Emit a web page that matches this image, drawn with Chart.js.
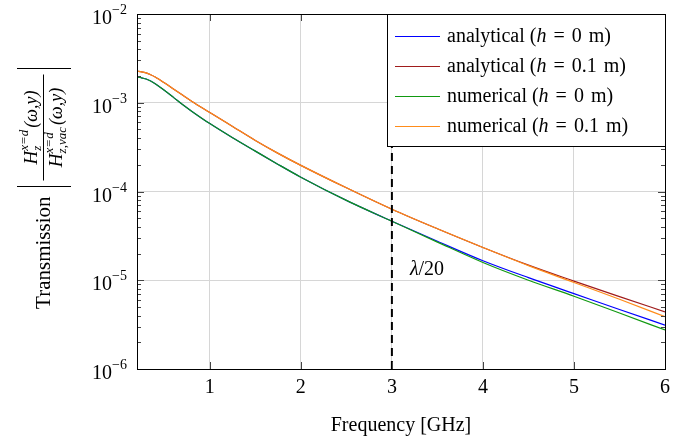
<!DOCTYPE html>
<html>
<head>
<meta charset="utf-8">
<script src="https://cdn.jsdelivr.net/npm/chart.js@4"></script>
<style>
  html, body { margin: 0; padding: 0; background: #fff; }
  #wrap { width: 699px; height: 441px; }
</style>
</head>
<body>
<div id="wrap"><canvas id="transChart" width="699" height="441"></canvas></div>
<script>
// frequency samples [GHz]
const freq = [0.2, 0.25, 0.3, 0.35, 0.4, 0.5, 0.6, 0.7, 0.8, 1.0, 1.25, 1.5, 1.75, 2.0, 2.5, 3.0, 3.5, 4.0, 4.5, 5.0, 5.5, 6.0];

const analyticalH0 = [1.95e-3, 1.91e-3, 1.85e-3, 1.76e-3, 1.64e-3, 1.38e-3, 1.15e-3, 9.55e-4, 8.04e-4, 5.82e-4, 4.03e-4, 2.85e-4, 2.02e-4, 1.45e-4, 7.94e-5, 4.62e-5, 2.75e-5, 1.66e-5, 1.07e-5, 7.08e-6, 4.68e-6, 3.12e-6];
const analyticalH01 = [2.265e-3, 2.23e-3, 2.17e-3, 2.07e-3, 1.95e-3, 1.68e-3, 1.43e-3, 1.22e-3, 1.04e-3, 7.76e-4, 5.40e-4, 3.76e-4, 2.69e-4, 1.97e-4, 1.10e-4, 6.31e-5, 3.80e-5, 2.34e-5, 1.48e-5, 9.77e-6, 6.53e-6, 4.41e-6];
const numericalH0 = [1.95e-3, 1.91e-3, 1.85e-3, 1.76e-3, 1.64e-3, 1.38e-3, 1.15e-3, 9.55e-4, 8.04e-4, 5.82e-4, 4.03e-4, 2.85e-4, 2.02e-4, 1.45e-4, 7.94e-5, 4.62e-5, 2.69e-5, 1.585e-5, 1.0e-5, 6.61e-6, 4.27e-6, 2.75e-6];
const numericalH01 = [2.265e-3, 2.23e-3, 2.17e-3, 2.07e-3, 1.95e-3, 1.68e-3, 1.43e-3, 1.22e-3, 1.04e-3, 7.76e-4, 5.40e-4, 3.76e-4, 2.69e-4, 1.97e-4, 1.10e-4, 6.31e-5, 3.80e-5, 2.34e-5, 1.46e-5, 9.44e-6, 6.10e-6, 3.89e-6];

// lambda/20 marker
const markerFreq = 3;
const markerLabel = 'λ/20';

const xTicks = [1, 2, 3, 4, 5, 6];
const yDecades = [-6, -5, -4, -3, -2];

const seriesLabels = ['analytical', 'analytical', 'numerical', 'numerical'];
const seriesH = ['0', '0.1', '0', '0.1'];
const seriesColors = ['#0000ff', '#a01c1c', '#119911', '#ff8c1a'];

const serif = "'Liberation Serif', 'DejaVu Serif', serif";

function pts(ys) {
    return freq.map((f, i) => ({ x: f, y: ys[i] }));
}

function isMajor(v) {
    const l = Math.log10(v);
    return Math.abs(l - Math.round(l)) < 1e-6;
}

const frame = {
    id: 'frame',
    afterDatasetsDraw(chart) {
        const { ctx, chartArea: a, scales } = chart;
        ctx.save();
        ctx.strokeStyle = '#444';
        ctx.lineWidth = 1;
        // tick marks inside the box
        scales.y.ticks.forEach(t => {
            const py = Math.round(scales.y.getPixelForValue(t.value)) + 0.5;
            const len = isMajor(t.value) ? 7 : 4;
            ctx.beginPath();
            ctx.moveTo(a.left, py); ctx.lineTo(a.left + len, py);
            ctx.moveTo(a.right, py); ctx.lineTo(a.right - len, py);
            ctx.stroke();
        });
        scales.x.ticks.forEach(t => {
            const px = Math.round(scales.x.getPixelForValue(t.value)) + 0.5;
            ctx.beginPath();
            ctx.moveTo(px, a.bottom); ctx.lineTo(px, a.bottom - 7);
            ctx.moveTo(px, a.top); ctx.lineTo(px, a.top + 7);
            ctx.stroke();
        });
        ctx.strokeStyle = '#000';
        ctx.strokeRect(Math.round(a.left) + 0.5, Math.round(a.top) + 0.5,
            Math.round(a.right - a.left), Math.round(a.bottom - a.top));

        // y tick labels 10^k
        ctx.fillStyle = '#000';
        ctx.textBaseline = 'alphabetic';
        ctx.textAlign = 'left';
        yDecades.forEach(d => {
            const py = scales.y.getPixelForValue(Math.pow(10, d));
            const ex = '\u2212' + Math.abs(d);
            ctx.font = '14px ' + serif;
            const we = ctx.measureText(ex).width;
            ctx.font = '20px ' + serif;
            const wb = ctx.measureText('10').width;
            const right = a.left - 10;
            ctx.fillText('10', right - we - wb, py + 10);
            ctx.font = '14px ' + serif;
            ctx.fillText(ex, right - we, py);
        });

        // lambda/20 label
        const lx = scales.x.getPixelForValue(markerFreq) + 18;
        const ly = scales.y.getPixelForValue(1.3e-5);
        ctx.textBaseline = 'middle';
        ctx.font = 'italic 20px ' + serif;
        ctx.fillText(markerLabel.charAt(0), lx, ly);
        const w = ctx.measureText(markerLabel.charAt(0)).width;
        ctx.font = '20px ' + serif;
        ctx.fillText(markerLabel.slice(1), lx + w, ly);
        ctx.restore();
    }
};

const legendBox = {
    id: 'legendBox',
    afterDraw(chart) {
        const { ctx, chartArea: a } = chart;
        const left = 387, top = Math.round(a.top), right = Math.round(a.right), bottom = 146;
        ctx.save();
        ctx.fillStyle = '#fff';
        ctx.fillRect(left, top, right - left, bottom - top);
        ctx.strokeStyle = '#000';
        ctx.lineWidth = 1;
        ctx.strokeRect(left + 0.5, top + 0.5, right - left, bottom - top);
        ctx.textBaseline = 'middle';
        seriesLabels.forEach((lab, i) => {
            const y = 36 + i * 30;
            ctx.strokeStyle = seriesColors[i];
            ctx.lineWidth = 1.2;
            ctx.beginPath();
            ctx.moveTo(395, y + 0.5); ctx.lineTo(440, y + 0.5);
            ctx.stroke();
            ctx.fillStyle = '#000';
            let x = 447;
            const parts = [[lab + ' (', '', 0], ['h', 'italic ', 7], ['=', '', 7], [seriesH[i], '', 7], ['m)', '', 0]];
            parts.forEach(p => {
                ctx.font = p[1] + '20px ' + serif;
                ctx.fillText(p[0], x, y + 1);
                x += ctx.measureText(p[0]).width + p[2];
            });
        });
        ctx.restore();
    }
};

const yTitle = {
    id: 'yTitle',
    afterDraw(chart) {
        const { ctx, chartArea: a } = chart;
        ctx.save();
        ctx.translate(43, (a.top + a.bottom) / 2);
        ctx.rotate(-Math.PI / 2);
        ctx.fillStyle = '#000';
        ctx.strokeStyle = '#000';
        ctx.textBaseline = 'middle';
        ctx.textAlign = 'left';
        ctx.font = '21px ' + serif;
        const tw = ctx.measureText('Transmission').width;
        ctx.fillText('Transmission', -5 - tw, 1);
        // |fraction|
        const barL = 5, barR = 123;
        ctx.lineWidth = 1;
        ctx.beginPath();
        ctx.moveTo(barL, -26); ctx.lineTo(barL, 28);
        ctx.moveTo(barR, -26); ctx.lineTo(barR, 28);
        ctx.moveTo(barL + 6, 0.5); ctx.lineTo(barR - 6, 0.5);
        ctx.stroke();
        function term(sub, cx, cy) {
            ctx.font = 'italic 19px ' + serif;
            const wH = ctx.measureText('H').width;
            ctx.font = 'italic 13px ' + serif;
            const wSup = ctx.measureText('x=d').width;
            const wSub = ctx.measureText(sub).width;
            ctx.font = 'italic 18px ' + serif;
            const wTail = ctx.measureText('(ω,y)').width;
            const total = wH + Math.max(wSup, wSub) + 2 + wTail;
            let px = cx - total / 2;
            ctx.font = 'italic 19px ' + serif;
            ctx.fillText('H', px, cy);
            px += wH;
            ctx.font = 'italic 13px ' + serif;
            ctx.fillText('x=d', px, cy - 7);
            ctx.fillText(sub, px, cy + 6);
            px += Math.max(wSup, wSub) + 2;
            ctx.font = 'italic 18px ' + serif;
            ctx.fillText('(ω,y)', px, cy);
        }
        const cx = (barL + barR) / 2;
        term('z', cx, -11);
        term('z,vac', cx, 14);
        ctx.restore();
    }
};

const ctx = document.getElementById('transChart').getContext('2d');

const datasets = seriesLabels.map((lab, i) => ({
    label: lab + ' (h = ' + seriesH[i] + ' m)',
    data: pts([analyticalH0, analyticalH01, numericalH0, numericalH01][i]),
    borderColor: seriesColors[i],
    borderWidth: 1.2,
    pointRadius: 0,
    cubicInterpolationMode: 'monotone',
    order: 4 - i
}));
datasets.push({
    label: markerLabel,
    data: [{ x: markerFreq, y: 1e-6 }, { x: markerFreq, y: 1e-2 }],
    borderColor: '#000',
    borderWidth: 2,
    borderDash: [8, 5],
    pointRadius: 0,
    order: 0
});

new Chart(ctx, {
    type: 'line',
    data: { datasets: datasets },
    options: {
        responsive: false,
        animation: false,
        layout: { padding: { top: 14, right: 34, left: 0, bottom: 0 } },
        plugins: { legend: { display: false }, tooltip: { enabled: false } },
        scales: {
            x: {
                type: 'linear',
                min: 0.2,
                max: 6,
                afterBuildTicks: s => { s.ticks = xTicks.map(v => ({ value: v })); },
                afterFit: s => { s.height = 72; },
                grid: { color: '#d6d6d6', drawTicks: false },
                border: { display: false },
                ticks: { color: '#000', padding: 7, font: { family: serif, size: 20 } },
                title: {
                    display: true,
                    text: 'Frequency [GHz]',
                    color: '#000',
                    font: { family: serif, size: 20 },
                    padding: { top: 4, bottom: 3 }
                }
            },
            y: {
                type: 'logarithmic',
                min: 1e-6,
                max: 1e-2,
                afterBuildTicks: s => {
                    const t = [];
                    yDecades.forEach(d => {
                        for (let m = 1; m <= 9; m++) {
                            if (d === -2 && m > 1) break;
                            t.push({ value: m * Math.pow(10, d) });
                        }
                    });
                    s.ticks = t;
                },
                afterFit: s => { s.width = 137; },
                grid: {
                    drawTicks: false,
                    color: c => (c.tick && isMajor(c.tick.value)) ? '#d6d6d6' : 'rgba(0,0,0,0)'
                },
                border: { display: false },
                ticks: { display: false, autoSkip: false }
            }
        }
    },
    plugins: [frame, legendBox, yTitle]
});
</script>
</body>
</html>
